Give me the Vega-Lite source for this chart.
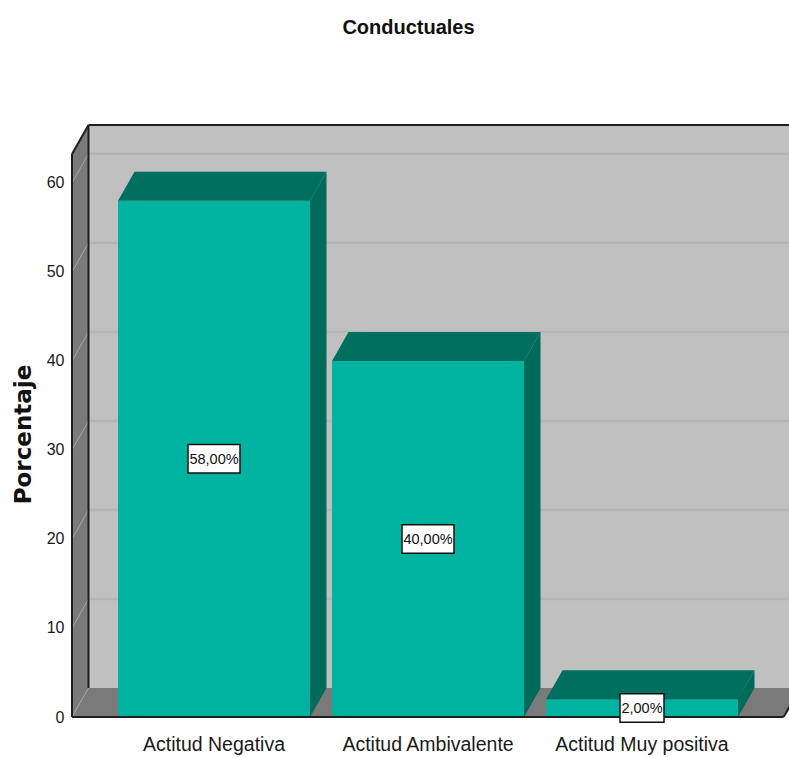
{
  "$schema": "https://vega.github.io/schema/vega-lite/v6.json",
  "width": 717,
  "height": 592,
  "autosize": "none",
  "padding": {"left": 72, "top": 125, "right": 0, "bottom": 41},
  "background": "white",
  "title": {
    "text": "Conductuales",
    "font": "Liberation Sans",
    "fontSize": 20,
    "fontWeight": "bold",
    "color": "#111111",
    "anchor": "middle",
    "frame": "group",
    "baseline": "alphabetic",
    "offset": 70,
    "dx": -22
  },
  "config": {
    "view": {"stroke": null},
    "axisY": {
      "domain": false,
      "ticks": false,
      "grid": false,
      "labelPadding": 8,
      "labelFont": "Liberation Sans",
      "labelFontSize": 16,
      "labelColor": "#1a1a1a",
      "titleFont": "DejaVu Sans",
      "titleFontSize": 23,
      "titleFontWeight": "bold",
      "titleColor": "#111111",
      "titleAngle": 270,
      "titleAlign": "center",
      "titleBaseline": "alphabetic",
      "titleX": -42,
      "titleY": 309
    }
  },
  "datasets": {
    "conductuales": [
      {"actitud": "Actitud Negativa", "porcentaje": 58},
      {"actitud": "Actitud Ambivalente", "porcentaje": 40},
      {"actitud": "Actitud Muy positiva", "porcentaje": 2}
    ],
    "ticks": [{"t": 0}, {"t": 10}, {"t": 20}, {"t": 30}, {"t": 40}, {"t": 50}, {"t": 60}],
    "depth": [{"d": 0}, {"d": 1}],
    "uno": [{}]
  },
  "layer": [
    {
      "description": "back wall",
      "data": {"name": "uno"},
      "mark": {"type": "rect", "fill": "#c0c0c0", "clip": true},
      "encoding": {
        "x": {"datum": -0.5865, "type": "quantitative", "scale": {"domain": [-0.6636, 2.6869], "nice": false, "zero": false}, "axis": null},
        "x2": {"datum": 2.75},
        "y": {
          "datum": 3.26,
          "type": "quantitative",
          "scale": {"domain": [0, 66.5], "nice": false, "zero": false},
          "axis": {"values": [0, 10, 20, 30, 40, 50, 60], "title": "Porcentaje"}
        },
        "y2": {"datum": 66.5}
      }
    },
    {
      "description": "left wall",
      "data": {"name": "depth"},
      "transform": [
        {"calculate": "-0.6636 + datum.d * 0.0771", "as": "wx"},
        {"calculate": "datum.d * 3.26", "as": "wy"},
        {"calculate": "63.24 + datum.d * 3.26", "as": "wy2"}
      ],
      "mark": {"type": "area", "orient": "vertical", "fill": "#7a7a7a"},
      "encoding": {
        "x": {"field": "wx", "type": "quantitative", "scale": {"domain": [-0.6636, 2.6869], "nice": false, "zero": false}, "axis": null},
        "y": {"field": "wy", "type": "quantitative", "stack": null, "scale": {"domain": [0, 66.5], "nice": false, "zero": false}},
        "y2": {"field": "wy2"}
      }
    },
    {
      "description": "floor",
      "data": {"name": "depth"},
      "transform": [
        {"calculate": "-0.6636 + datum.d * 0.0771", "as": "fx"},
        {"calculate": "2.662 + datum.d * 0.0771", "as": "fx2"},
        {"calculate": "datum.d * 3.26", "as": "fy"}
      ],
      "mark": {"type": "area", "orient": "horizontal", "fill": "#7a7a7a", "clip": true},
      "encoding": {
        "y": {"field": "fy", "type": "quantitative", "scale": {"domain": [0, 66.5], "nice": false, "zero": false}},
        "x": {"field": "fx", "type": "quantitative", "stack": null, "scale": {"domain": [-0.6636, 2.6869], "nice": false, "zero": false}, "axis": null},
        "x2": {"field": "fx2"}
      }
    },
    {
      "description": "gridlines on the back wall",
      "data": {"name": "ticks"},
      "transform": [
        {"filter": "datum.t > 0"},
        {"calculate": "datum.t + 3.26", "as": "gy"}
      ],
      "mark": {"type": "rule", "color": "#b5b5b5", "strokeWidth": 2.5, "clip": true},
      "encoding": {
        "y": {"field": "gy", "type": "quantitative", "scale": {"domain": [0, 66.5], "nice": false, "zero": false}},
        "x": {"datum": -0.5865, "type": "quantitative", "scale": {"domain": [-0.6636, 2.6869], "nice": false, "zero": false}, "axis": null},
        "x2": {"datum": 2.75}
      }
    },
    {
      "description": "gridlines on the left wall",
      "data": {"name": "ticks"},
      "transform": [{"calculate": "datum.t + 3.26", "as": "gy2"}],
      "mark": {"type": "rule", "color": "#a6a6a6", "strokeWidth": 1},
      "encoding": {
        "y": {"field": "t", "type": "quantitative", "scale": {"domain": [0, 66.5], "nice": false, "zero": false}},
        "y2": {"field": "gy2"},
        "x": {"datum": -0.6636, "type": "quantitative", "scale": {"domain": [-0.6636, 2.6869], "nice": false, "zero": false}, "axis": null},
        "x2": {"datum": -0.5865}
      }
    },
    {
      "description": "bar front faces",
      "data": {"name": "conductuales"},
      "transform": [
        {"window": [{"op": "row_number", "as": "n"}]},
        {"calculate": "datum.n - 1 - 0.4486", "as": "bx"},
        {"calculate": "datum.n - 1 + 0.4486", "as": "bx2"}
      ],
      "mark": {"type": "rect", "fill": "#00b3a0"},
      "encoding": {
        "x": {"field": "bx", "type": "quantitative", "scale": {"domain": [-0.6636, 2.6869], "nice": false, "zero": false}, "axis": null},
        "x2": {"field": "bx2"},
        "y": {"field": "porcentaje", "type": "quantitative", "scale": {"domain": [0, 66.5], "nice": false, "zero": false}},
        "y2": {"datum": 0}
      }
    },
    {
      "description": "bar top faces",
      "data": {"name": "conductuales"},
      "transform": [
        {"window": [{"op": "row_number", "as": "n"}]},
        {"calculate": "datum.n - 1", "as": "i"},
        {"calculate": "0", "as": "delante"},
        {"calculate": "1", "as": "detras"},
        {"fold": ["delante", "detras"], "as": ["cara", "d"]},
        {"calculate": "datum.i - 0.4486 + datum.d * 0.0771", "as": "tx"},
        {"calculate": "datum.i + 0.4486 + datum.d * 0.0771", "as": "tx2"},
        {"calculate": "datum.porcentaje + datum.d * 3.26", "as": "ty"}
      ],
      "mark": {"type": "area", "orient": "horizontal", "fill": "#006f5f"},
      "encoding": {
        "detail": {"field": "actitud"},
        "y": {"field": "ty", "type": "quantitative", "scale": {"domain": [0, 66.5], "nice": false, "zero": false}},
        "x": {"field": "tx", "type": "quantitative", "stack": null, "scale": {"domain": [-0.6636, 2.6869], "nice": false, "zero": false}, "axis": null},
        "x2": {"field": "tx2"}
      }
    },
    {
      "description": "bar side faces",
      "data": {"name": "conductuales"},
      "transform": [
        {"window": [{"op": "row_number", "as": "n"}]},
        {"calculate": "datum.n - 1", "as": "i"},
        {"calculate": "0", "as": "delante"},
        {"calculate": "1", "as": "detras"},
        {"fold": ["delante", "detras"], "as": ["cara", "d"]},
        {"calculate": "datum.i + 0.4486 + datum.d * 0.0771", "as": "sx"},
        {"calculate": "datum.d * 3.26", "as": "sy"},
        {"calculate": "datum.porcentaje + datum.d * 3.26", "as": "sy2"}
      ],
      "mark": {"type": "area", "orient": "vertical", "fill": "#006a5b"},
      "encoding": {
        "detail": {"field": "actitud"},
        "x": {"field": "sx", "type": "quantitative", "scale": {"domain": [-0.6636, 2.6869], "nice": false, "zero": false}, "axis": null},
        "y": {"field": "sy", "type": "quantitative", "stack": null, "scale": {"domain": [0, 66.5], "nice": false, "zero": false}},
        "y2": {"field": "sy2"}
      }
    },
    {
      "description": "frame: front edge of the floor",
      "data": {"name": "uno"},
      "mark": {"type": "rule", "color": "#1e1e1e", "strokeWidth": 2},
      "encoding": {
        "x": {"datum": -0.6636, "type": "quantitative", "scale": {"domain": [-0.6636, 2.6869], "nice": false, "zero": false}, "axis": null},
        "x2": {"datum": 2.662},
        "y": {"datum": 0, "type": "quantitative", "scale": {"domain": [0, 66.5], "nice": false, "zero": false}}
      }
    },
    {
      "description": "frame: right edge of the floor",
      "data": {"name": "uno"},
      "mark": {"type": "rule", "color": "#1e1e1e", "strokeWidth": 2, "clip": true},
      "encoding": {
        "x": {"datum": 2.662, "type": "quantitative", "scale": {"domain": [-0.6636, 2.6869], "nice": false, "zero": false}, "axis": null},
        "x2": {"datum": 2.739},
        "y": {"datum": 0, "type": "quantitative", "scale": {"domain": [0, 66.5], "nice": false, "zero": false}},
        "y2": {"datum": 3.26}
      }
    },
    {
      "description": "frame: front edge of the left wall",
      "data": {"name": "uno"},
      "mark": {"type": "rule", "color": "#1e1e1e", "strokeWidth": 2},
      "encoding": {
        "x": {"datum": -0.6636, "type": "quantitative", "scale": {"domain": [-0.6636, 2.6869], "nice": false, "zero": false}, "axis": null},
        "y": {"datum": 0, "type": "quantitative", "scale": {"domain": [0, 66.5], "nice": false, "zero": false}},
        "y2": {"datum": 63.24}
      }
    },
    {
      "description": "frame: top edge of the left wall",
      "data": {"name": "uno"},
      "mark": {"type": "rule", "color": "#1e1e1e", "strokeWidth": 2},
      "encoding": {
        "x": {"datum": -0.6636, "type": "quantitative", "scale": {"domain": [-0.6636, 2.6869], "nice": false, "zero": false}, "axis": null},
        "x2": {"datum": -0.5865},
        "y": {"datum": 63.24, "type": "quantitative", "scale": {"domain": [0, 66.5], "nice": false, "zero": false}},
        "y2": {"datum": 66.5}
      }
    },
    {
      "description": "frame: top edge of the back wall",
      "data": {"name": "uno"},
      "mark": {"type": "rule", "color": "#1e1e1e", "strokeWidth": 2},
      "encoding": {
        "x": {"datum": -0.5865, "type": "quantitative", "scale": {"domain": [-0.6636, 2.6869], "nice": false, "zero": false}, "axis": null},
        "x2": {"datum": 2.6869},
        "y": {"datum": 66.5, "type": "quantitative", "scale": {"domain": [0, 66.5], "nice": false, "zero": false}}
      }
    },
    {
      "description": "frame: left edge of the back wall",
      "data": {"name": "uno"},
      "mark": {"type": "rule", "color": "#1e1e1e", "strokeWidth": 2},
      "encoding": {
        "x": {"datum": -0.5865, "type": "quantitative", "scale": {"domain": [-0.6636, 2.6869], "nice": false, "zero": false}, "axis": null},
        "y": {"datum": 3.26, "type": "quantitative", "scale": {"domain": [0, 66.5], "nice": false, "zero": false}},
        "y2": {"datum": 66.5}
      }
    },
    {
      "description": "value label boxes",
      "data": {"name": "conductuales"},
      "transform": [
        {"window": [{"op": "row_number", "as": "n"}]},
        {"calculate": "datum.n - 1", "as": "i"},
        {"calculate": "replace(format(datum.porcentaje, '.2f'), '.', ',') + '%'", "as": "etiqueta"},
        {"calculate": "(length(datum.etiqueta) * 8 + 4) / 2 / 214", "as": "media"},
        {"calculate": "datum.i - datum.media", "as": "lx"},
        {"calculate": "datum.i + datum.media", "as": "lx2"},
        {"calculate": "datum.porcentaje / 2 - 1.6", "as": "ly"},
        {"calculate": "datum.porcentaje / 2 + 1.6", "as": "ly2"}
      ],
      "mark": {"type": "rect", "fill": "white", "stroke": "#111111", "strokeWidth": 1.5},
      "encoding": {
        "x": {"field": "lx", "type": "quantitative", "scale": {"domain": [-0.6636, 2.6869], "nice": false, "zero": false}, "axis": null},
        "x2": {"field": "lx2"},
        "y": {"field": "ly", "type": "quantitative", "scale": {"domain": [0, 66.5], "nice": false, "zero": false}},
        "y2": {"field": "ly2"}
      }
    },
    {
      "description": "value labels",
      "data": {"name": "conductuales"},
      "transform": [
        {"window": [{"op": "row_number", "as": "n"}]},
        {"calculate": "datum.n - 1", "as": "i"},
        {"calculate": "replace(format(datum.porcentaje, '.2f'), '.', ',') + '%'", "as": "etiqueta"},
        {"calculate": "datum.porcentaje / 2", "as": "mitad"}
      ],
      "mark": {"type": "text", "font": "Liberation Sans", "fontSize": 14.5, "color": "#111111", "align": "center", "baseline": "middle", "dy": 1},
      "encoding": {
        "text": {"field": "etiqueta"},
        "x": {"field": "i", "type": "quantitative", "scale": {"domain": [-0.6636, 2.6869], "nice": false, "zero": false}, "axis": null},
        "y": {"field": "mitad", "type": "quantitative", "scale": {"domain": [0, 66.5], "nice": false, "zero": false}}
      }
    },
    {
      "description": "category labels under the bars",
      "data": {"name": "conductuales"},
      "transform": [
        {"window": [{"op": "row_number", "as": "n"}]},
        {"calculate": "datum.n - 1", "as": "i"}
      ],
      "mark": {"type": "text", "font": "Liberation Sans", "fontSize": 19.5, "color": "#1a1a1a", "align": "center", "baseline": "alphabetic", "dy": 34},
      "encoding": {
        "text": {"field": "actitud"},
        "x": {"field": "i", "type": "quantitative", "scale": {"domain": [-0.6636, 2.6869], "nice": false, "zero": false}, "axis": null},
        "y": {"datum": 0, "type": "quantitative", "scale": {"domain": [0, 66.5], "nice": false, "zero": false}}
      }
    }
  ]
}
